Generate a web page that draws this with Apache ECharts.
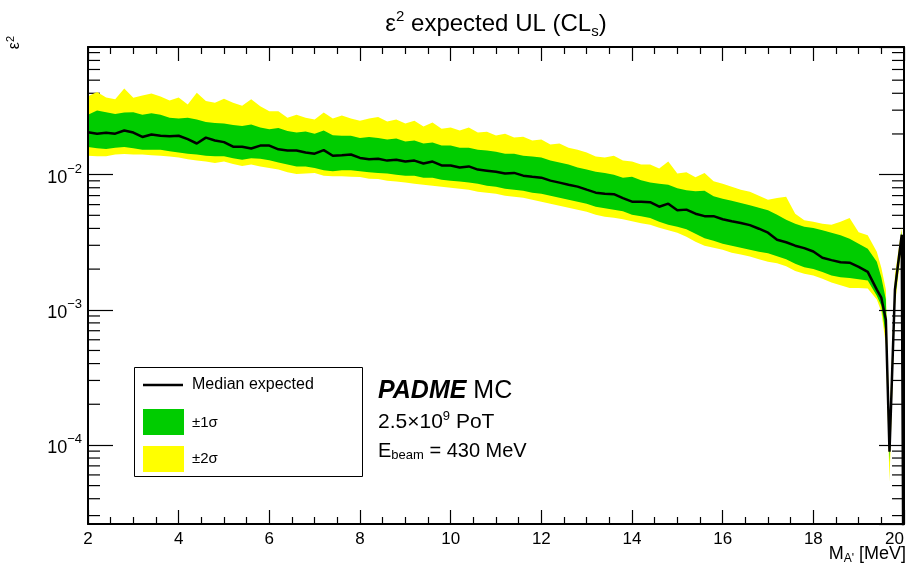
<!DOCTYPE html>
<html><head><meta charset="utf-8">
<script src="https://cdn.jsdelivr.net/npm/echarts@6/dist/echarts.min.js"></script>
<style>html,body{margin:0;padding:0;background:#fff}#c{width:917px;height:569px}</style>
</head><body><div id="c"></div>
<script>
// ---- data ----
const massMeV = [2.0,2.2,2.4,2.6,2.8,3.0,3.2,3.4,3.6,3.8,4.0,4.2,4.4,4.6,4.8,5.0,5.2,5.4,5.6,5.8,
  6.0,6.2,6.4,6.6,6.8,7.0,7.2,7.4,7.6,7.8,8.0,8.2,8.4,8.6,8.8,9.0,9.2,9.4,9.6,9.8,
  10.0,10.2,10.4,10.6,10.8,11.0,11.2,11.4,11.6,11.8,12.0,12.2,12.4,12.6,12.8,13.0,13.2,13.4,13.6,13.8,
  14.0,14.2,14.4,14.6,14.8,15.0,15.2,15.4,15.6,15.8,16.0,16.2,16.4,16.6,16.8,17.0,17.2,17.4,17.6,17.8,
  18.0,18.2,18.4,18.6,18.8,19.0,19.2,19.4,19.5,19.6,19.68,19.8,19.95,20.0];
const medianExpected = [0.0206,0.0201,0.0204,0.0201,0.0212,0.0205,0.0190,0.0198,0.0194,0.0192,
  0.0194,0.0183,0.0170,0.0188,0.0179,0.0174,0.0161,0.0161,0.0156,0.0164,
  0.0164,0.0154,0.0151,0.0151,0.0146,0.0143,0.0152,0.0138,0.0139,0.0141,
  0.0133,0.0130,0.0131,0.0127,0.0129,0.0125,0.0127,0.0121,0.0125,0.0117,
  0.0117,0.0113,0.0115,0.0109,0.0107,0.0105,0.0102,0.0103,0.00983,0.00966,
  0.00950,0.00903,0.00873,0.00843,0.00815,0.00774,0.00736,0.00723,0.00717,0.00670,
  0.00631,0.00631,0.00626,0.00579,0.00610,0.00546,0.00551,0.00514,0.00493,0.00493,
  0.00468,0.00452,0.00439,0.00423,0.00398,0.00372,0.00330,0.00316,0.00298,0.00286,
  0.00270,0.00243,0.00233,0.00225,0.00223,0.00208,0.00191,0.00141,0.00123,0.000843,
  0.0000892,0.00141,0.00359,0.000001];
const sigma1Up = [0.0278,0.0298,0.0290,0.0281,0.0288,0.0290,0.0278,0.0285,0.0278,0.0264,
  0.0260,0.0264,0.0256,0.0245,0.0241,0.0239,0.0233,0.0229,0.0235,0.0223,
  0.0217,0.0221,0.0210,0.0205,0.0209,0.0201,0.0212,0.0196,0.0194,0.0194,
  0.0187,0.0190,0.0187,0.0182,0.0185,0.0176,0.0179,0.0170,0.0173,0.0164,
  0.0164,0.0158,0.0158,0.0153,0.0151,0.0148,0.0143,0.0143,0.0138,0.0136,
  0.0134,0.0127,0.0123,0.0119,0.0113,0.0109,0.0105,0.0103,0.0100,0.00950,
  0.00966,0.00910,0.00873,0.00858,0.00843,0.00794,0.00768,0.00755,0.00761,0.00691,
  0.00664,0.00642,0.00617,0.00594,0.00570,0.00546,0.00506,0.00464,0.00434,0.00412,
  0.00403,0.00388,0.00372,0.00356,0.00336,0.00308,0.00283,0.00227,0.00173,0.00119,
  0.000109,0.00161,0.00378,null];
const sigma1Down = [0.0160,0.0157,0.0155,0.0158,0.0160,0.0157,0.0153,0.0153,0.0153,0.0149,
  0.0146,0.0143,0.0141,0.0138,0.0137,0.0137,0.0132,0.0129,0.0132,0.0131,
  0.0128,0.0123,0.0119,0.0115,0.0115,0.0112,0.0108,0.0106,0.0108,0.0108,
  0.0106,0.0104,0.0103,0.0102,0.0100,0.00983,0.00983,0.00950,0.00950,0.00918,
  0.00903,0.00888,0.00873,0.00858,0.00829,0.00815,0.00788,0.00774,0.00761,0.00736,
  0.00723,0.00699,0.00676,0.00653,0.00631,0.00610,0.00579,0.00565,0.00551,0.00537,
  0.00506,0.00493,0.00478,0.00449,0.00426,0.00412,0.00395,0.00366,0.00339,0.00324,
  0.00308,0.00298,0.00288,0.00278,0.00269,0.00262,0.00249,0.00237,0.00219,0.00206,
  0.00200,0.00190,0.00179,0.00174,0.00172,0.00168,0.00165,0.00127,0.00107,0.000652,
  0.0000748,0.00119,0.00330,null];
const sigma2Up = [0.0380,0.0408,0.0372,0.0362,0.0434,0.0370,0.0385,0.0398,0.0378,0.0353,
  0.0372,0.0330,0.0403,0.0350,0.0341,0.0364,0.0341,0.0324,0.0362,0.0321,
  0.0294,0.0295,0.0264,0.0278,0.0264,0.0256,0.0288,0.0260,0.0274,0.0260,
  0.0251,0.0260,0.0267,0.0247,0.0256,0.0239,0.0251,0.0227,0.0243,0.0219,
  0.0223,0.0212,0.0223,0.0205,0.0208,0.0195,0.0201,0.0188,0.0191,0.0179,
  0.0182,0.0167,0.0170,0.0158,0.0153,0.0146,0.0136,0.0134,0.0138,0.0127,
  0.0125,0.0119,0.0119,0.0111,0.0125,0.0102,0.0104,0.00958,0.0103,0.00892,
  0.00858,0.00815,0.00774,0.00748,0.00699,0.00653,0.00672,0.00687,0.00514,0.00460,
  0.00449,0.00434,0.00426,0.00449,0.00478,0.00375,0.00356,0.00269,0.00205,0.00141,
  0.000141,0.00182,0.00405,null];
const sigma2Down = [0.0138,0.0137,0.0137,0.0141,0.0142,0.0141,0.0141,0.0139,0.0138,0.0136,
  0.0134,0.0130,0.0127,0.0125,0.0122,0.0125,0.0120,0.0116,0.0119,0.0115,
  0.0112,0.0109,0.0104,0.0101,0.0102,0.0103,0.00983,0.00971,0.00971,0.00966,
  0.00962,0.00934,0.00929,0.00903,0.00888,0.00873,0.00858,0.00843,0.00829,0.00815,
  0.00801,0.00788,0.00774,0.00748,0.00736,0.00723,0.00699,0.00687,0.00676,0.00653,
  0.00631,0.00610,0.00589,0.00570,0.00551,0.00532,0.00506,0.00489,0.00480,0.00468,
  0.00452,0.00437,0.00426,0.00405,0.00388,0.00372,0.00347,0.00319,0.00298,0.00288,
  0.00278,0.00264,0.00256,0.00248,0.00237,0.00227,0.00221,0.00210,0.00194,0.00185,
  0.00179,0.00170,0.00159,0.00152,0.00145,0.00145,0.00144,0.00119,0.000966,0.000551,
  0.0000535,0.00107,0.00303,null];

const xMin = 2, xMax = 20, xStep = 2;
const yMin = 2.6e-5, yMax = 0.088;
const legendLabels = ['Median expected', '\u00b11\u03c3', '\u00b12\u03c3'];

// minor log ticks (2..9 x 10^n) inside the range
const yMinorTicks = [];
for (let e = -5; e <= -1; e++) for (let m = 2; m <= 9; m++) {
  const v = m * Math.pow(10, e); if (v > yMin && v < yMax) yMinorTicks.push(v);
}

const FONT = 'Liberation Sans, Arial, Helvetica, sans-serif';
const GREEN = '#00cc00', YELLOW = '#ffff00';

function bandSeries(name, up, down, color, z) {
  return {
    type: 'custom', name: name, coordinateSystem: 'cartesian2d', xAxisIndex: 0, yAxisIndex: 0,
    silent: true, z: z, encode: {x: 0, y: 1},
    data: [[10, 0.001]],
    renderItem: function (params, api) {
      const pts = [];
      for (let i = 0; i < massMeV.length; i++) if (up[i] != null) pts.push(api.coord([massMeV[i], up[i]]));
      for (let i = massMeV.length - 1; i >= 0; i--) if (down[i] != null) pts.push(api.coord([massMeV[i], down[i]]));
      return {type: 'polygon', shape: {points: pts}, style: {fill: color, stroke: null}};
    }
  };
}

const axisCommonX = {
  type: 'value', min: xMin, max: xMax, interval: xStep, z: 5,
  axisLine: {show: true, onZero: false, lineStyle: {color: '#000', width: 2}},
  axisTick: {show: true, inside: true, length: 14, lineStyle: {color: '#000', width: 1.2}},
  minorTick: {show: true, splitNumber: 4, length: 7, lineStyle: {color: '#000', width: 1.2}},
  splitLine: {show: false}, minorSplitLine: {show: false}
};
const axisCommonY = {
  type: 'log', logBase: 10, min: yMin, max: yMax, z: 5,
  axisLine: {show: true, onZero: false, lineStyle: {color: '#000', width: 2}},
  axisTick: {show: true, inside: true, length: 25, lineStyle: {color: '#000', width: 1.2}},
  splitLine: {show: false}, minorTick: {show: false}
};

const option = {
  animation: false,
  backgroundColor: '#fff',
  grid: {left: 88, right: 13, top: 47, bottom: 45, containLabel: false, outerBoundsMode: 'none'},
  xAxis: [
    Object.assign({}, axisCommonX, {position: 'bottom',
      axisLabel: {show: true, color: '#000', fontSize: 17, fontFamily: FONT, margin: 7, alignMaxLabel: 'right'}}),
    Object.assign({}, axisCommonX, {position: 'top', axisLabel: {show: false}})
  ],
  yAxis: [
    Object.assign({}, axisCommonY, {position: 'left',
      axisLabel: {show: true, showMinLabel: false, showMaxLabel: false, margin: 6,
        formatter: function (v) {
          const e = Math.log10(v), r = Math.round(e);
          if (Math.abs(e - r) > 1e-6) return '';
          return '{b|10}{s|' + (r < 0 ? '\u2212' : '') + Math.abs(r) + '}';
        },
        rich: {
          b: {fontSize: 18, fontFamily: FONT, color: '#000', lineHeight: 24, verticalAlign: 'bottom'},
          s: {fontSize: 13, fontFamily: FONT, color: '#000', lineHeight: 13, verticalAlign: 'top'}
        }}}),
    Object.assign({}, axisCommonY, {position: 'right', axisLabel: {show: false}})
  ],
  series: [
    {
      type: 'custom', name: 'minorTicks', coordinateSystem: 'cartesian2d', silent: true, z: 1,
      encode: {x: 0, y: 1}, data: [[10, 0.001]],
      renderItem: function (params, api) {
        const children = [];
        yMinorTicks.forEach(function (v) {
          const pl = api.coord([xMin, v]), pr = api.coord([xMax, v]);
          children.push({type: 'line', shape: {x1: pl[0], y1: pl[1], x2: pl[0] + 12, y2: pl[1]},
            style: {stroke: '#000', lineWidth: 1.2}});
          children.push({type: 'line', shape: {x1: pr[0], y1: pr[1], x2: pr[0] - 12, y2: pr[1]},
            style: {stroke: '#000', lineWidth: 1.2}});
        });
        return {type: 'group', children: children};
      }
    },
    bandSeries('\u00b12\u03c3', sigma2Up, sigma2Down, YELLOW, 2),
    bandSeries('\u00b11\u03c3', sigma1Up, sigma1Down, GREEN, 3),
    {
      type: 'line', name: 'Median expected', z: 4, showSymbol: false, symbol: 'none', clip: true,
      data: massMeV.map(function (x, i) { return [x, medianExpected[i]]; }),
      lineStyle: {color: '#000', width: 2.5}, silent: true
    }
  ],
  graphic: [
    {type: 'text', x: 496, y: 24, z: 10, style: {
      text: '{b|\u03b5}{sup|2}{b| expected UL (CL}{sub|s}{b|)}',
      textAlign: 'center', textVerticalAlign: 'middle',
      rich: {
        b: {fontSize: 24, fontFamily: FONT, fill: '#000', lineHeight: 30},
        sup: {fontSize: 15, fontFamily: FONT, fill: '#000', lineHeight: 15, verticalAlign: 'top'},
        sub: {fontSize: 15, fontFamily: FONT, fill: '#000', lineHeight: 15, verticalAlign: 'bottom'}
      }}},
    {type: 'text', x: 15, y: 36, rotation: Math.PI / 2, z: 10, style: {
      text: '{b|\u03b5}{sup|2}', textAlign: 'right', textVerticalAlign: 'middle',
      rich: {
        b: {fontSize: 16, fontFamily: FONT, fill: '#000', lineHeight: 19},
        sup: {fontSize: 11, fontFamily: FONT, fill: '#000', lineHeight: 11, verticalAlign: 'top'}
      }}},
    {type: 'text', x: 906, y: 554, z: 10, style: {
      text: '{b|M}{sub|A\'}{b| [MeV]}', textAlign: 'right', textVerticalAlign: 'middle',
      rich: {
        b: {fontSize: 18, fontFamily: FONT, fill: '#000', lineHeight: 21},
        sub: {fontSize: 12, fontFamily: FONT, fill: '#000', lineHeight: 12, verticalAlign: 'bottom'}
      }}},
    // legend box
    {type: 'rect', z: 10, shape: {x: 134.5, y: 367.5, width: 228, height: 109},
      style: {fill: '#fff', stroke: '#000', lineWidth: 1}},
    {type: 'line', z: 11, shape: {x1: 143, y1: 385, x2: 183, y2: 385}, style: {stroke: '#000', lineWidth: 2.5}},
    {type: 'text', z: 11, x: 192, y: 385, style: {text: legendLabels[0], fontSize: 16, fontFamily: FONT,
      fill: '#000', textVerticalAlign: 'middle'}},
    {type: 'rect', z: 11, shape: {x: 143, y: 409, width: 41, height: 26}, style: {fill: GREEN}},
    {type: 'text', z: 11, x: 192, y: 423, style: {text: legendLabels[1], fontSize: 15, fontFamily: FONT,
      fill: '#000', textVerticalAlign: 'middle'}},
    {type: 'rect', z: 11, shape: {x: 143, y: 446, width: 41, height: 26}, style: {fill: YELLOW}},
    {type: 'text', z: 11, x: 192, y: 459, style: {text: legendLabels[2], fontSize: 15, fontFamily: FONT,
      fill: '#000', textVerticalAlign: 'middle'}},
    // annotations
    {type: 'text', z: 11, x: 378, y: 391, style: {
      text: '{bi|PADME}{r| MC}', textVerticalAlign: 'middle',
      rich: {
        bi: {fontSize: 25, fontFamily: FONT, fontWeight: 'bold', fontStyle: 'italic', fill: '#000'},
        r: {fontSize: 25, fontFamily: FONT, fill: '#000'}
      }}},
    {type: 'text', z: 11, x: 378, y: 422, style: {
      text: '{r|2.5\u00d710}{sup|9}{r| PoT}', textVerticalAlign: 'middle',
      rich: {
        r: {fontSize: 21, fontFamily: FONT, fill: '#000', lineHeight: 25},
        sup: {fontSize: 13, fontFamily: FONT, fill: '#000', lineHeight: 13, verticalAlign: 'top'}
      }}},
    {type: 'text', z: 11, x: 378, y: 451, style: {
      text: '{r|E}{sub|beam}{r| = 430 MeV}', textVerticalAlign: 'middle',
      rich: {
        r: {fontSize: 20, fontFamily: FONT, fill: '#000', lineHeight: 22},
        sub: {fontSize: 13, fontFamily: FONT, fill: '#000', lineHeight: 13, verticalAlign: 'bottom'}
      }}}
  ]
};

const chart = echarts.init(document.getElementById('c'), null, {renderer: 'canvas'});
chart.setOption(option);
</script>
</body></html>
